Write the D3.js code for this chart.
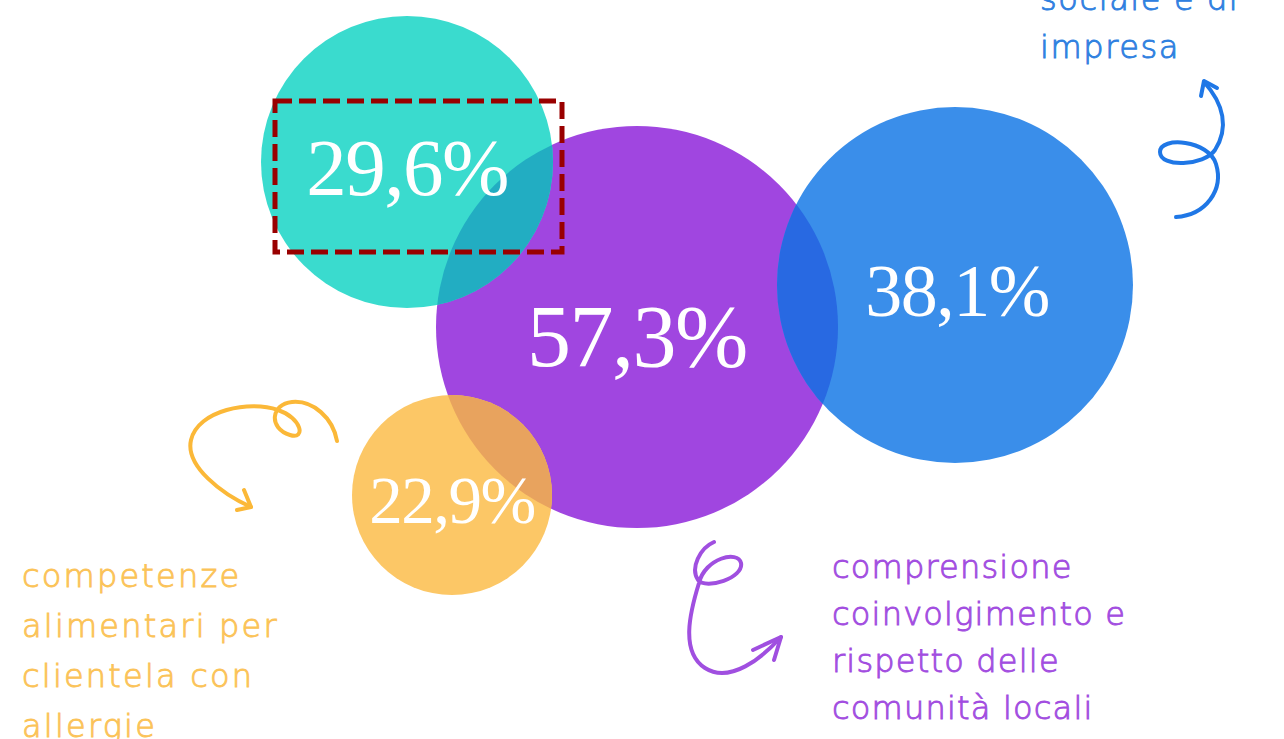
<!DOCTYPE html>
<html>
<head>
<meta charset="utf-8">
<script src="https://cdn.jsdelivr.net/npm/d3@7"></script>
<style>
  html, body { margin: 0; padding: 0; background: #fff; overflow: hidden; }
  svg { display: block; }
</style>
</head>
<body>
<svg id="visu"></svg>
<script>
// bubble values
var groups = ["teal", "purple", "blue", "orange"];
var values = [29.6, 57.3, 38.1, 22.9];
var fills = ["#3adbce", "#a046e0", "#3a8eea", "#fcc766"];

// overlaps between bubbles (drawn as the lens shared by two circles)
var overlaps = [
  {a: "teal", b: "purple", color: "#22adc2"},
  {a: "purple", b: "blue", color: "#2869e2"},
  {a: "orange", b: "purple", color: "#e8a35e"}
];

// side captions
var captionOrange = ["competenze", "alimentari per", "clientela con", "allergie"];
var captionPurple = ["comprensione", "coinvolgimento e", "rispetto delle", "comunità locali"];
var captionBlue = ["sociale e di", "impresa"];

var WIDTH = 1284,
    HEIGHT = 739;

var vis = d3.select("#visu").attr("width", WIDTH).attr("height", HEIGHT);

var it = d3.formatLocale({decimal: ",", thousands: ".", grouping: [3], currency: ["", "€"]});
var fmt = function(v) { return it.format(".1f")(v) + "%"; };

// layout of the bubbles
var cx = d3.scaleOrdinal().domain(groups).range([407, 637, 955, 452]);
var cy = d3.scaleOrdinal().domain(groups).range([162, 327, 285, 495]);
var rScale = d3.scaleLinear().domain([22.9, 29.6, 38.1, 57.3]).range([100, 146, 178, 201]);
var fontScale = d3.scaleLinear().domain([22.9, 29.6, 38.1, 57.3]).range([67, 81, 74, 88]);
var color = d3.scaleOrdinal().domain(groups).range(fills);

var data = groups.map(function(g, i) { return {key: g, value: values[i]}; });
var byKey = {};
data.forEach(function(d) { byKey[d.key] = d; });

var drawOrder = ["purple", "blue", "teal", "orange"];

vis.append("g").selectAll("circle")
  .data(drawOrder.map(function(k) { return byKey[k]; }))
  .enter().append("circle")
  .attr("cx", function(d) { return cx(d.key); })
  .attr("cy", function(d) { return cy(d.key); })
  .attr("r", function(d) { return rScale(d.value); })
  .attr("fill", function(d) { return color(d.key); });

var defs = vis.append("defs");
overlaps.forEach(function(o, i) {
  var a = byKey[o.a];
  defs.append("clipPath").attr("id", "clip" + i)
    .append("circle")
    .attr("cx", cx(a.key)).attr("cy", cy(a.key)).attr("r", rScale(a.value));
});

vis.append("g").selectAll("circle")
  .data(overlaps)
  .enter().append("circle")
  .attr("clip-path", function(d, i) { return "url(#clip" + i + ")"; })
  .attr("cx", function(d) { return cx(d.b); })
  .attr("cy", function(d) { return cy(d.b); })
  .attr("r", function(d) { return rScale(byKey[d.b].value); })
  .attr("fill", function(d) { return d.color; });

// percentages
var labelDy = {teal: 33, purple: 39, blue: 31, orange: 28};
vis.append("g").selectAll("text")
  .data(data)
  .enter().append("text")
  .attr("x", function(d) { return cx(d.key) + (d.key == "blue" ? 2 : 0); })
  .attr("y", function(d) { return cy(d.key) + labelDy[d.key]; })
  .attr("text-anchor", "middle")
  .attr("fill", "#fff")
  .style("font-family", "'Liberation Serif', 'DejaVu Serif', serif")
  .style("font-size", function(d) { return fontScale(d.value) + "px"; })
  .style("letter-spacing", "-1.5px")
  .text(function(d) { return fmt(d.value); });

// highlight box around the teal value
vis.append("rect")
  .attr("x", 275).attr("y", 101)
  .attr("width", 287).attr("height", 151)
  .attr("fill", "none")
  .attr("stroke", "#990000")
  .attr("stroke-width", 5)
  .attr("stroke-dasharray", "17,7");

// hand drawn arrows
function arrow(d, head, col) {
  var g = vis.append("g")
    .attr("fill", "none")
    .attr("stroke", col)
    .attr("stroke-width", 4)
    .attr("stroke-linecap", "round")
    .attr("stroke-linejoin", "round");
  g.append("path").attr("d", d);
  g.append("path").attr("d", head);
}

arrow("M1176,217 C1206,215 1224,190 1216,164 C1209,140 1160,136 1160,152 C1160,168 1204,166 1215,150 C1229,128 1224,104 1204,82",
      "M1201,96 L1204,81 L1217,88", "#1f77e6");

arrow("M337,441 C333,418 313,400 292,402 C271,404 268,428 290,435 C306,440 302,418 278,410 C250,400 198,410 191,440 C185,466 222,494 251,507",
      "M244,490 L251,507 L237,510", "#fbb838");

arrow("M714,542 C700,548 690,568 698,580 C706,590 744,578 741,563 C738,550 705,558 699,583 C690,612 680,652 705,668 C730,684 762,658 781,637",
      "M753,650 L781,637 L774,660", "#a04fe0");

// captions
function caption(lines, x, y0, step, col, ls) {
  vis.append("g").selectAll("text")
    .data(lines)
    .enter().append("text")
    .attr("x", x)
    .attr("y", function(d, i) { return y0 + i * step; })
    .attr("fill", col)
    .attr("stroke", col)
    .attr("stroke-width", 0.9)
    .style("font-family", "'DejaVu Sans', sans-serif")
    .style("font-weight", 200)
    .style("font-size", "32px")
    .style("letter-spacing", ls + "px")
    .text(function(d) { return d; });
}

caption(captionOrange, 22, 587, 50, "#fbc358", 2.2);
caption(captionPurple, 832, 578, 47, "#a24de0", 1.2);
caption(captionBlue, 1040, 10, 48, "#2f80e0", 1.6);
</script>
</body>
</html>
